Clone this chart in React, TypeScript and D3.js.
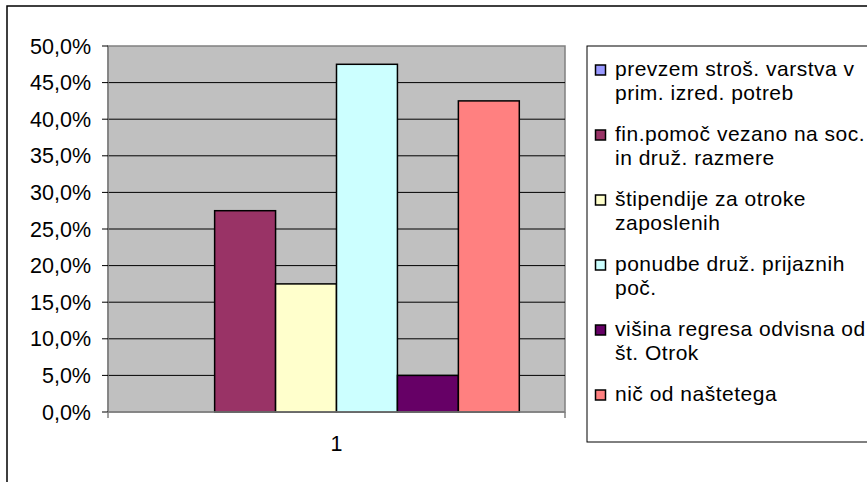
import React from "react";
import * as d3 from "d3";

// Survey results: share of respondents per measure (single category "1")
const categories = ["1"];
const seriesNames = [
  ["prevzem stroš. varstva v", "prim. izred. potreb"],
  ["fin.pomoč vezano na soc.", "in druž. razmere"],
  ["štipendije za otroke", "zaposlenih"],
  ["ponudbe druž. prijaznih", "poč."],
  ["višina regresa odvisna od", "št. Otrok"],
  ["nič od naštetega"],
];
const seriesValues = [0.0, 0.275, 0.175, 0.475, 0.05, 0.425];
const seriesColors = ["#9999FF", "#993366", "#FFFFCC", "#CCFFFF", "#660066", "#FF8080"];
const yTicks = [0, 0.05, 0.1, 0.15, 0.2, 0.25, 0.3, 0.35, 0.4, 0.45, 0.5];

const W = 867;
const H = 482;
const plot = { left: 108, right: 565, top: 46, bottom: 412 };
const legendBox = { x: 587, y: 46, h: 396 };
const FONT = "'Liberation Sans', Arial, sans-serif";

export default function App() {
  const y = d3.scaleLinear().domain([0, 0.5]).range([plot.bottom, plot.top]);
  const xCat = d3
    .scaleBand<string>()
    .domain(categories)
    .range([plot.left, plot.right]);
  // gap width 150% of one bar on the category
  const nBars = seriesValues.length;
  const barW = xCat.bandwidth() / (nBars + 1.5);
  const groupStart = (xCat("1") ?? 0) + barW * 0.75;
  const xBar = d3
    .scaleBand<number>()
    .domain(d3.range(nBars))
    .range([groupStart, groupStart + barW * nBars])
    .padding(0);
  const fmt = (v: number) => (v * 100).toFixed(1).replace(".", ",") + "%";

  return (
    <svg
      width={W}
      height={H}
      style={{ position: "absolute", left: 0, top: 0, fontFamily: FONT }}
    >
      <rect x={0} y={0} width={W} height={H} fill="#fff" />
      {/* outer chart frame */}
      <rect x={7} y={6} width={W + 20} height={H + 20} fill="#fff" stroke="#000" strokeWidth={1.5} />

      {/* plot area */}
      <rect
        x={plot.left}
        y={plot.top}
        width={plot.right - plot.left}
        height={plot.bottom - plot.top}
        fill="#C0C0C0"
        stroke="#808080"
        strokeWidth={1.5}
      />
      {yTicks.slice(1, -1).map((t) => (
        <line key={t} x1={plot.left} x2={plot.right} y1={y(t)} y2={y(t)} stroke="#000" strokeWidth={1} />
      ))}

      {/* bars */}
      {seriesValues.map((v, i) => (
        <rect
          key={i}
          x={xBar(i)}
          y={y(v)}
          width={xBar.bandwidth()}
          height={plot.bottom - y(v)}
          fill={seriesColors[i]}
          stroke="#000"
          strokeWidth={1.5}
        />
      ))}

      {/* y axis */}
      <line x1={plot.left} x2={plot.left} y1={plot.top} y2={plot.bottom} stroke="#808080" strokeWidth={1.5} />
      {yTicks.map((t) => (
        <g key={t}>
          <line x1={plot.left - 6} x2={plot.left} y1={y(t)} y2={y(t)} stroke="#000" strokeWidth={1} />
          <text x={91} y={y(t) + 7.5} textAnchor="end" fontSize={21.5} fill="#000">
            {fmt(t)}
          </text>
        </g>
      ))}

      {/* x axis */}
      <line x1={plot.left} x2={plot.right} y1={plot.bottom} y2={plot.bottom} stroke="#808080" strokeWidth={1.5} />
      <line x1={plot.left} x2={plot.left} y1={plot.bottom} y2={plot.bottom + 6} stroke="#808080" strokeWidth={1.5} />
      <line x1={plot.right} x2={plot.right} y1={plot.bottom} y2={plot.bottom + 6} stroke="#808080" strokeWidth={1.5} />
      {categories.map((c) => (
        <text
          key={c}
          x={(xCat(c) ?? 0) + xCat.bandwidth() / 2}
          y={451}
          textAnchor="middle"
          fontSize={21.5}
          fill="#000"
        >
          {c}
        </text>
      ))}

      {/* legend */}
      <rect x={legendBox.x} y={legendBox.y} width={W} height={legendBox.h} fill="#fff" stroke="#000" strokeWidth={1} />
      {seriesNames.map((lines, i) => {
        const top = 65 + i * 65;
        return (
          <g key={i}>
            <rect x={595.5} y={top} width={10} height={10} fill={seriesColors[i]} stroke="#000" strokeWidth={1.5} />
            {lines.map((ln, j) => (
              <text key={j} x={615} y={top + 11 + j * 23.5} fontSize={21} letterSpacing={0.5} fill="#000">
                {ln}
              </text>
            ))}
          </g>
        );
      })}
    </svg>
  );
}
